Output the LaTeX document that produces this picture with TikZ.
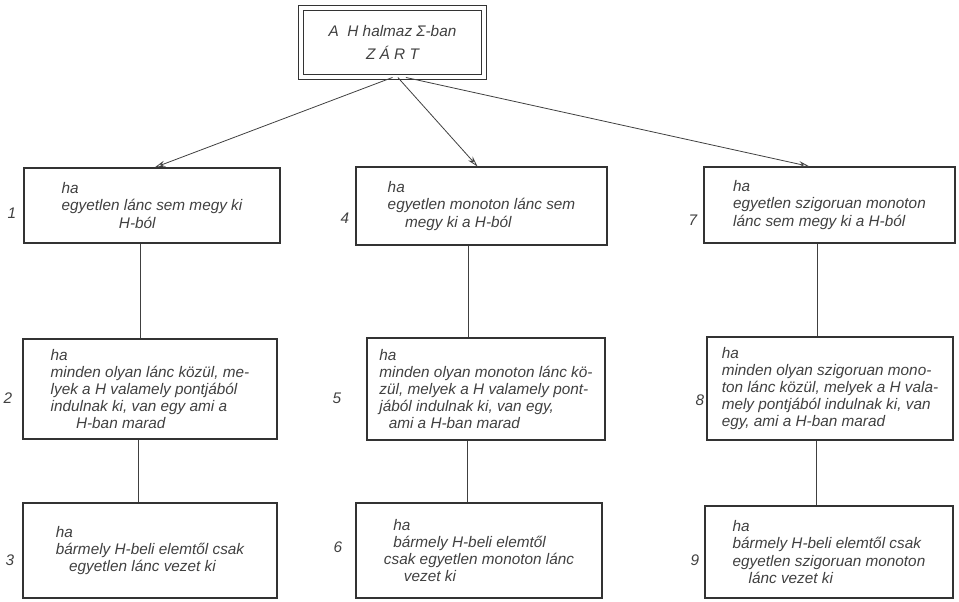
\documentclass[tikz,border=0pt]{standalone}
\usepackage{fontspec}
\setmainfont{Liberation Sans}
\usetikzlibrary{positioning,arrows.meta}

\begin{document}
\begin{tikzpicture}[
    x=0.75pt, y=-0.75pt,
    wh/.style 2 args={minimum width=#1*0.75pt, minimum height=#2*0.75pt},
    box/.style={draw=black!80, line width=0.8pt, rectangle, align=left, inner sep=0pt, text=black!75, font=\fontsize{11.5}{12.8}\selectfont\itshape},
    topbox/.style={draw=black!80, double, double distance=3pt, line width=0.7pt, rectangle, align=center, inner sep=0pt, text=black!75, font=\fontsize{11.5}{17}\selectfont\itshape},
    num/.style={text=black!75, font=\fontsize{11.5}{13}\selectfont\itshape},
    link/.style={draw=black!75, line width=0.6pt},
    arrow/.style={link, -{Stealth[open, length=8pt, width=4.5pt]}}
]
\useasboundingbox (0,0) rectangle (959,602);

% Top box
\node[topbox, wh={183}{69}] (top) at (392.5,42.5) {A \ H halmaz Σ-ban\\Z Á R T};

% First row
\node[box, wh={256}{75}] (b1) at (152,205.5) {ha\\egyetlen lánc sem megy ki\\\hspace*{43pt}H-ból};
\node[box, wh={251}{78}] (b4) at (481.5,206) {ha\\egyetlen monoton lánc sem\\\hspace*{13pt}megy ki a H-ból};
\node[box, wh={251}{76}] (b7) at (829.5,205) {ha\\egyetlen szigoruan monoton\\lánc sem megy ki a H-ból};

% Second row
\node[box, wh={254}{100}] (b2) at (150,389) {ha\\minden olyan lánc közül, me-\\lyek a H valamely pontjából\\indulnak ki, van egy ami a\\\hspace*{19pt}H-ban marad};
\node[box, wh={238}{102}] (b5) at (486,389) {ha\\minden olyan monoton lánc kö-\\zül, melyek a H valamely pont-\\jából indulnak ki, van egy,\\\hspace*{7pt}ami a H-ban marad};
\node[box, wh={246}{103}] (b8) at (830,388.5) {ha\\minden olyan szigoruan mono-\\ton lánc közül, melyek a H vala-\\mely pontjából indulnak ki, van\\egy, ami a H-ban marad};

% Third row
\node[box, wh={254}{95}] (b3) at (150,550.5) {ha\\bármely H-beli elemtől csak\\\hspace*{10pt}egyetlen lánc vezet ki};
\node[box, wh={246}{95}] (b6) at (479,550.5) {\hspace*{7pt}ha\\\hspace*{7pt}bármely H-beli elemtől\\csak egyetlen monoton lánc\\\hspace*{15pt}vezet ki};
\node[box, wh={248}{92}] (b9) at (829,552) {ha\\bármely H-beli elemtől csak\\egyetlen szigoruan monoton\\\hspace*{12pt}lánc vezet ki};

% Row numbers
\node[num] (n1) at (12,213) {1};
\node[num] (n4) at (345,218) {4};
\node[num] (n7) at (693,220) {7};
\node[num] (n2) at (8,398) {2};
\node[num] (n5) at (337,398) {5};
\node[num] (n8) at (700,400) {8};
\node[num] (n3) at (10,560) {3};
\node[num] (n6) at (338,547) {6};
\node[num] (n9) at (695,560) {9};

% Arrows from the top box
\draw[arrow] (top.south) -- ([xshift=2pt]b1.north);
\draw[arrow] ([xshift=4pt]top.south) -- ([xshift=-3pt]b4.north);
\draw[arrow] ([xshift=10pt]top.south) -- ([xshift=-15pt]b7.north);

% Vertical links
\draw[link] ([xshift=-9pt]b1.south) coordinate (c1) -- (c1 |- b2.north);
\draw[link] ([xshift=-9pt]b2.south) coordinate (c2) -- (c2 |- b3.north);
\draw[link] ([xshift=-10pt]b4.south) coordinate (c4) -- (c4 |- b5.north);
\draw[link] ([xshift=-14.25pt]b5.south) coordinate (c5) -- (c5 |- b6.north);
\draw[link] ([xshift=-9.4pt]b7.south) coordinate (c7) -- (c7 |- b8.north);
\draw[link] ([xshift=-10.5pt]b8.south) coordinate (c8) -- (c8 |- b9.north);

\end{tikzpicture}
\end{document}
